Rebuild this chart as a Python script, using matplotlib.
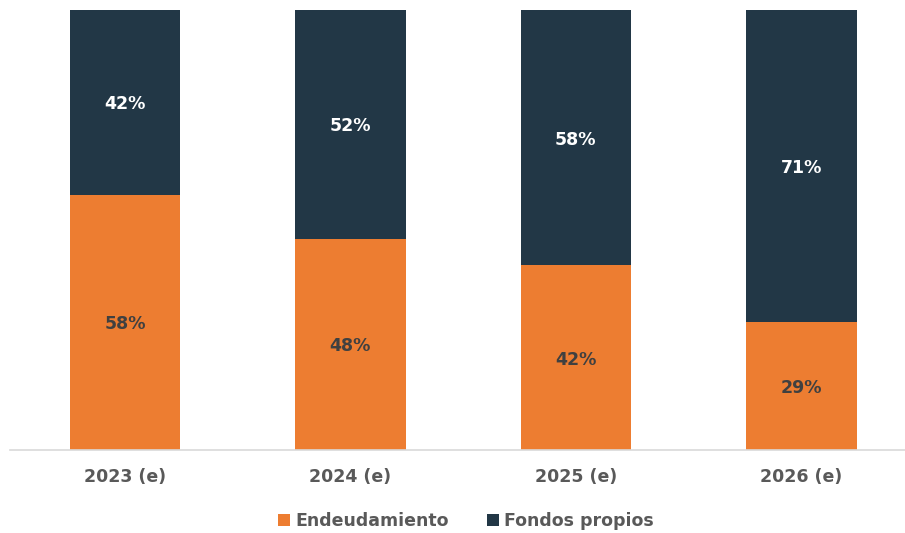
import numpy as np
import matplotlib.pyplot as plt

# Estructura de financiación (% del total)
years = ['2023 (e)', '2024 (e)', '2025 (e)', '2026 (e)']
endeudamiento = np.array([58, 48, 42, 29])
fondos_propios = np.array([42, 52, 58, 71])

orange = '#ED7D31'
navy = '#223746'

plt.rcParams['font.family'] = ['DejaVu Sans']
plt.rcParams['font.weight'] = 'bold'

fig = plt.figure(figsize=(9.05, 5.33), dpi=100)
ax = fig.add_axes([10 / 905, 83 / 533, 895 / 905, 440 / 533])

x = np.arange(len(years))
b1 = ax.bar(x, endeudamiento, width=0.49, color=orange, label='Endeudamiento')
b2 = ax.bar(x, fondos_propios, width=0.49, bottom=endeudamiento, color=navy,
            label='Fondos propios')

for i in range(len(years)):
    ax.text(x[i], endeudamiento[i] / 2, f'{endeudamiento[i]}%', ha='center',
            va='center_baseline', color='#404040', fontsize=12.5, fontweight='bold')
    ax.text(x[i], endeudamiento[i] + fondos_propios[i] / 2, f'{fondos_propios[i]}%',
            ha='center', va='center_baseline', color='white', fontsize=12.5,
            fontweight='bold')

ax.set_xlim(-0.51, 3.46)
ax.set_ylim(0, 100)
ax.set_xticks(x)
ax.set_xticklabels(years, fontsize=12.5, fontweight='bold', color='#595959')
ax.tick_params(axis='x', length=0, pad=13)
ax.set_yticks([])
for s in ['top', 'right', 'left']:
    ax.spines[s].set_visible(False)
ax.spines['bottom'].set_color('#D9D9D9')
ax.spines['bottom'].set_linewidth(1.2)

leg = fig.legend(handles=[b1, b2], loc='center', bbox_to_anchor=(466 / 905, 1 - 521 / 533),
                 ncol=2, frameon=False, fontsize=12.5, handlelength=0.7, handleheight=0.7,
                 handletextpad=0.3, columnspacing=2.2)
for t in leg.get_texts():
    t.set_color('#595959')
    t.set_fontweight('bold')

plt.savefig('out.png', dpi=100)
